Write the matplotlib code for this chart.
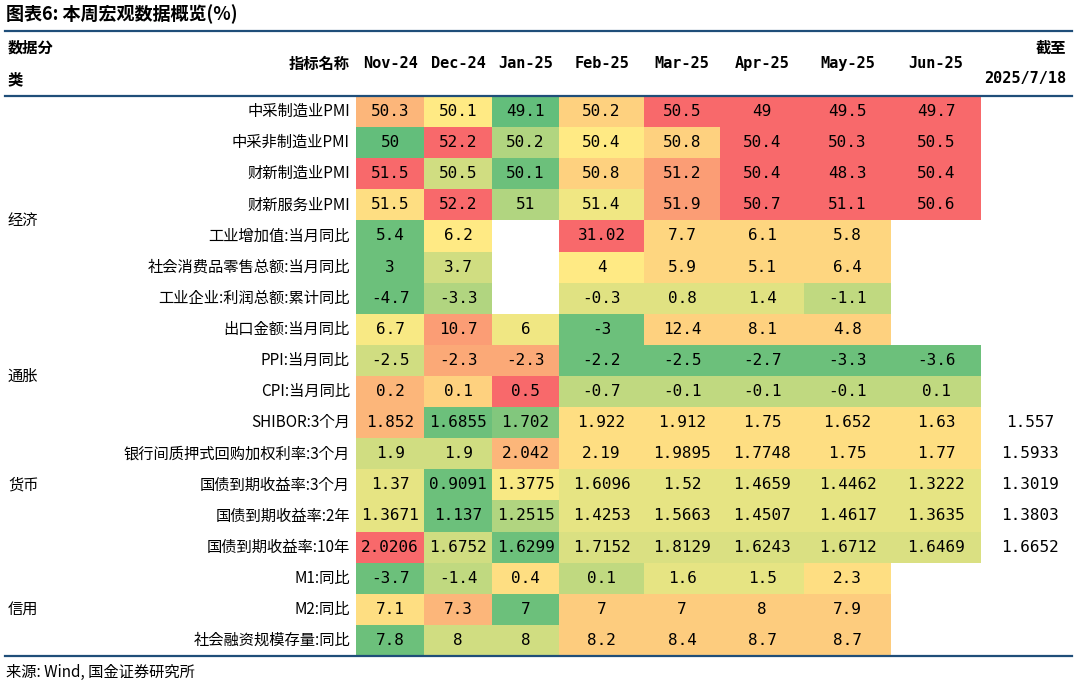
import numpy as np
import matplotlib.pyplot as plt
from matplotlib import font_manager
from matplotlib.colors import LinearSegmentedColormap
from matplotlib.patches import Rectangle

cjk = [f.name for f in font_manager.fontManager.ttflist if 'CJK' in f.name]
cjk_font = 'Noto Sans CJK SC' if 'Noto Sans CJK SC' in cjk else (cjk[0] if cjk else 'DejaVu Sans')
plt.rcParams['font.family'] = [cjk_font, 'DejaVu Sans']

months = ['Nov-24', 'Dec-24', 'Jan-25', 'Feb-25', 'Mar-25', 'Apr-25', 'May-25', 'Jun-25']
indicators = ['中采制造业PMI', '中采非制造业PMI', '财新制造业PMI', '财新服务业PMI',
              '工业增加值:当月同比', '社会消费品零售总额:当月同比', '工业企业:利润总额:累计同比',
              '出口金额:当月同比', 'PPI:当月同比', 'CPI:当月同比', 'SHIBOR:3个月',
              '银行间质押式回购加权利率:3个月', '国债到期收益率:3个月', '国债到期收益率:2年',
              '国债到期收益率:10年', 'M1:同比', 'M2:同比', '社会融资规模存量:同比']
groups = [('经济', 0, 7), ('通胀', 8, 9), ('货币', 10, 14), ('信用', 15, 17)]
values = [
    ['50.3', '50.1', '49.1', '50.2', '50.5', '49', '49.5', '49.7'],
    ['50', '52.2', '50.2', '50.4', '50.8', '50.4', '50.3', '50.5'],
    ['51.5', '50.5', '50.1', '50.8', '51.2', '50.4', '48.3', '50.4'],
    ['51.5', '52.2', '51', '51.4', '51.9', '50.7', '51.1', '50.6'],
    ['5.4', '6.2', '', '31.02', '7.7', '6.1', '5.8', ''],
    ['3', '3.7', '', '4', '5.9', '5.1', '6.4', ''],
    ['-4.7', '-3.3', '', '-0.3', '0.8', '1.4', '-1.1', ''],
    ['6.7', '10.7', '6', '-3', '12.4', '8.1', '4.8', ''],
    ['-2.5', '-2.3', '-2.3', '-2.2', '-2.5', '-2.7', '-3.3', '-3.6'],
    ['0.2', '0.1', '0.5', '-0.7', '-0.1', '-0.1', '-0.1', '0.1'],
    ['1.852', '1.6855', '1.702', '1.922', '1.912', '1.75', '1.652', '1.63'],
    ['1.9', '1.9', '2.042', '2.19', '1.9895', '1.7748', '1.75', '1.77'],
    ['1.37', '0.9091', '1.3775', '1.6096', '1.52', '1.4659', '1.4462', '1.3222'],
    ['1.3671', '1.137', '1.2515', '1.4253', '1.5663', '1.4507', '1.4617', '1.3635'],
    ['2.0206', '1.6752', '1.6299', '1.7152', '1.8129', '1.6243', '1.6712', '1.6469'],
    ['-3.7', '-1.4', '0.4', '0.1', '1.6', '1.5', '2.3', ''],
    ['7.1', '7.3', '7', '7', '7', '8', '7.9', ''],
    ['7.8', '8', '8', '8.2', '8.4', '8.7', '8.7', ''],
]
latest = ['', '', '', '', '', '', '', '', '', '', '1.557', '1.5933', '1.3019', '1.3803', '1.6652', '', '', '']

# colour level per cell (0 green .. 0.5 yellow .. 1 red), as shaded in the source
shade = [
    [0.7, 0.5, 0.0, 0.6, 1, 1, 1, 1],
    [0.0, 1, 0.25, 0.5, 0.6, 1, 1, 1],
    [1, 0.35, 0.03, 0.6, 0.8, 1, 1, 1],
    [0.55, 1, 0.25, 0.45, 0.8, 1, 1, 1],
    [0.03, 0.5, 0, 1, 0.58, 0.58, 0.58, 0],
    [0.03, 0.35, 0, 0.5, 0.58, 0.58, 0.58, 0],
    [0.03, 0.25, 0, 0.4, 0.4, 0.4, 0.3, 0],
    [0.48, 0.8, 0.45, 0.03, 0.6, 0.6, 0.6, 0],
    [0.35, 0.75, 0.75, 0.03, 0.03, 0.03, 0.03, 0.03],
    [0.7, 0.6, 1, 0.3, 0.3, 0.3, 0.3, 0.3],
    [0.7, 0.03, 0.1, 0.55, 0.55, 0.55, 0.55, 0.55],
    [0.35, 0.35, 0.7, 0.55, 0.55, 0.55, 0.55, 0.55],
    [0.42, 0.03, 0.48, 0.42, 0.42, 0.42, 0.42, 0.42],
    [0.42, 0.03, 0.25, 0.42, 0.42, 0.42, 0.42, 0.42],
    [1, 0.35, 0.03, 0.38, 0.38, 0.38, 0.38, 0.38],
    [0.03, 0.3, 0.55, 0.3, 0.42, 0.42, 0.55, 0],
    [0.55, 0.7, 0.03, 0.62, 0.62, 0.62, 0.62, 0],
    [0.03, 0.35, 0.35, 0.62, 0.62, 0.62, 0.62, 0],
]

cmap = LinearSegmentedColormap.from_list('gyr', ['#63BE7B', '#FFEB84', '#F8696B'])

fig = plt.figure(figsize=(10.78, 6.87), dpi=100)
ax = fig.add_axes([0, 0, 1, 1])
ax.set_xlim(0, 1078)
ax.set_ylim(687, 0)
ax.axis('off')

col_edges = [356, 424, 492, 559, 644, 720, 804, 891, 981]
top, bottom = 96, 656
rh = (bottom - top) / len(indicators)
line_c = '#1F4E79'
num_font = 'DejaVu Sans Mono'

ax.text(6, 14, '图表6: 本周宏观数据概览(%)', fontsize=13, fontweight='bold', va='center')
for y in (31, top, bottom):
    ax.plot([5, 1072], [y, y], color=line_c, lw=1.6)

hy = (31 + top) / 2
ax.text(8, 48, '数据分', fontsize=11, fontweight='bold', va='center')
ax.text(8, 79, '类', fontsize=11, fontweight='bold', va='center')
ax.text(350, hy, '指标名称', fontsize=11, fontweight='bold', va='center', ha='right')
for j, m in enumerate(months):
    ax.text((col_edges[j] + col_edges[j + 1]) / 2, hy, m, fontsize=11, fontweight='bold',
            va='center', ha='center', family=num_font)
ax.text(1066, 48, '截至', fontsize=11, fontweight='bold', va='center', ha='right')
ax.text(1066, 79, '2025/7/18', fontsize=11, fontweight='bold', va='center', ha='right',
        family=num_font)

for i, name in enumerate(indicators):
    yc = top + rh * (i + 0.5)
    ax.text(350, yc, name, fontsize=11, va='center', ha='right')
    for j in range(len(months)):
        v = values[i][j]
        if v == '':
            continue
        ax.add_patch(Rectangle((col_edges[j], top + rh * i), col_edges[j + 1] - col_edges[j], rh,
                               facecolor=cmap(float(shade[i][j])), edgecolor='none'))
        ax.text((col_edges[j] + col_edges[j + 1]) / 2, yc, v, fontsize=11.5, va='center',
                ha='center', family=num_font)
    if latest[i]:
        ax.text(1030, yc, latest[i], fontsize=11.5, va='center', ha='center', family=num_font)

for g, a, b in groups:
    ax.text(8, top + rh * (a + b + 1) / 2, g, fontsize=11, va='center')

ax.text(6, 672, '来源: Wind, 国金证券研究所', fontsize=11, va='center')

fig.savefig('out.png', dpi=100)
